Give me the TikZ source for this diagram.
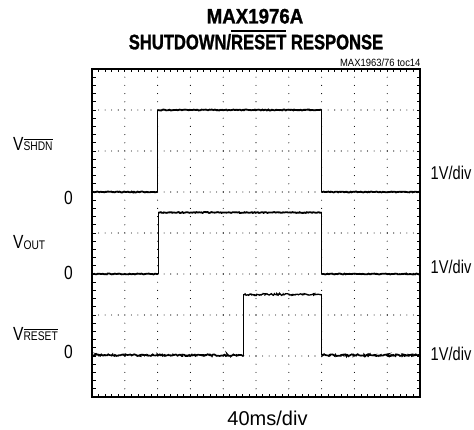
\documentclass[tikz,border=0pt]{standalone}
\usepackage{fontspec}
\setmainfont{Liberation Sans}
\newfontfamily\cond{Liberation Sans}[FakeStretch=0.82]
\newfontfamily\condr{Liberation Sans}[FakeStretch=0.79]
\newfontfamily\titlef{Liberation Sans}[FakeStretch=0.79, FakeBold=1.2]
\newfontfamily\titlefw{Liberation Sans}[FakeStretch=0.89, FakeBold=1.2]
\newfontfamily\tocf{Liberation Sans}[FakeStretch=0.9]
\usetikzlibrary{decorations.pathmorphing}
\newcommand\myovl[3]{\vbox{\hrule height #1\kern #2\hbox{#3}}}
\tikzset{
  lab/.style={inner sep=0pt, font=\cond\fontsize{19}{21}\selectfont},
  rlab/.style={inner sep=0pt, font=\condr\fontsize{18.5}{21}\selectfont},
  ttl/.style={inner sep=0pt, font=\titlef\bfseries\fontsize{21}{24}\selectfont},
  ttlw/.style={inner sep=0pt, font=\titlefw\bfseries\fontsize{21}{24}\selectfont},
  frame/.style={line width=2.6pt},
  gdot/.style={fill=black},
  tick/.style={line width=0.8pt},
  trace/.style={line width=1.8pt, decorate, decoration={random steps, segment length=1.2pt, amplitude=0.45pt}},
  noisy/.style={line width=1.7pt, decorate, decoration={random steps, segment length=1pt, amplitude=0.9pt}},
  edgev/.style={line width=0.9pt},
}
\newcommand\subf{\cond\fontsize{12.5}{13}\selectfont}
\pgfmathsetseed{7}
\begin{document}
\begin{tikzpicture}[x=1pt, y=-1pt]
\useasboundingbox (0,0) rectangle (474,430);
% titles
\node[ttlw, anchor=base] (t1) at (255,23.5) {MAX1976A};
\node[ttl, anchor=base] (t2) at (256,49.3) {SHUTDOWN/\myovl{1.5pt}{3pt}{RESET} RESPONSE};
\node[inner sep=0pt, anchor=base east, font=\tocf\fontsize{10.5}{12}\selectfont] (toc) at (420.7,66.7) {MAX1963/76 toc14};
% plot
\begin{scope}[shift={(92,69)}, x=32.8pt, y=-41pt]
  % grid dots
  \foreach \i in {1,...,9}
    \foreach \j in {1,...,39}
      \fill[gdot] (\i,\j/5) circle[radius=0.55pt];
  \foreach \k in {1,...,7}
    \foreach \j in {1,...,49}
      \fill[gdot] (\j/5,\k) circle[radius=0.55pt];
  % frame ticks
  \foreach \j in {1,...,49} {
    \draw[tick] (\j/5,0) -- ++(0pt,-3.5pt);
    \draw[tick] (\j/5,8) -- ++(0pt,3.5pt);
  }
  \foreach \j in {1,...,39} {
    \draw[tick] (0,\j/5) -- ++(3.5pt,0pt);
    \draw[tick] (10,\j/5) -- ++(-3.5pt,0pt);
  }
  \draw[frame] (0,0) rectangle (10,8);
  % SHDN trace
  \draw[trace] (0,3) -- (2,3);
  \draw[trace] (2,1) -- (7,1);
  \draw[trace] (7,3) -- (10,3);
  \draw[edgev] (2,3) -- (2,1);
  \draw[edgev] (7,1) -- (7,3);
  % VOUT trace
  \draw[trace] (0,5) -- (2.02,5);
  \draw[trace] (2.02,3.5) -- (7,3.5);
  \draw[trace] (7,5) -- (10,5);
  \draw[edgev] (2.02,5) -- (2.02,3.5);
  \draw[edgev] (7,3.5) -- (7,5);
  % RESET trace
  \draw[noisy] (0,6.98) -- (4.63,6.98);
  \draw[noisy, line width=1.3pt] (4.63,5.5) -- (7,5.5);
  \draw[noisy] (7,6.98) -- (10,6.98);
  \draw[edgev] (4.63,6.98) -- (4.63,5.5);
  \draw[edgev] (7,5.5) -- (7,6.98);
\end{scope}
% left labels
\node[lab, anchor=base west] (vshdn) at (13,150.5) {V\myovl{0.9pt}{1.8pt}{\subf SHDN}};
\node[lab, anchor=base west] (vout) at (13,248.3) {V{\subf\raisebox{-1pt}{OUT}}};
\node[lab, anchor=base west] (vreset) at (13,340.5) {V\myovl{0.9pt}{1.8pt}{\subf RESET}};
\node[lab, anchor=base east] (z1) at (73,205) {0};
\node[lab, anchor=base east] (z2) at (73,280) {0};
\node[lab, anchor=base east] (z3) at (73,359) {0};
% right labels
\node[rlab, anchor=base west] (d1) at (430.5,179.3) {1V/div};
\node[rlab, anchor=base west] (d2) at (430.5,273.3) {1V/div};
\node[rlab, anchor=base west] (d3) at (430.5,360) {1V/div};
% bottom label
\node[inner sep=0pt, anchor=base, font=\fontsize{20}{22}\selectfont] (tx) at (267.5,425.7) {40ms/div};
\end{tikzpicture}
\end{document}
